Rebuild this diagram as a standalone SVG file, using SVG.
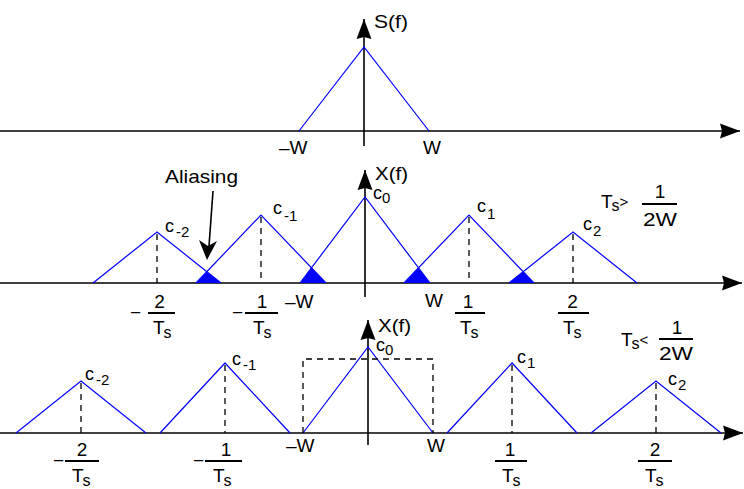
<svg xmlns="http://www.w3.org/2000/svg" width="744" height="489" viewBox="0 0 744 489">
<style>
.ax{stroke:#000;stroke-width:1.6;fill:none}
.sig{stroke:#0000ff;stroke-width:1.2;fill:none;stroke-linejoin:miter}
.ov{fill:#0000ff;stroke:none}
.dash{stroke:#000;stroke-width:1.3;stroke-dasharray:6,5;fill:none}
text{font-family:"Liberation Sans",Arial,Helvetica,sans-serif;fill:#000}
.t{font-size:19px}
.c{font-size:18px}
.sub{font-size:15px}
.s{font-size:16px}
.mid{text-anchor:middle}
</style>
<defs>
<marker id="ah" markerUnits="userSpaceOnUse" viewBox="0 0 20 16" markerWidth="20" markerHeight="16" refX="20" refY="8" orient="auto">
<path d="M0,0.5 L20,8 L0,15.5 L2,8 z" fill="#000"/>
</marker>
</defs>
<rect width="744" height="489" fill="#fff"/>

<g id="connectors">
<line class="ax" x1="0" y1="131" x2="740" y2="131" marker-end="url(#ah)"/>
<line class="ax" x1="364" y1="146" x2="364" y2="19" marker-end="url(#ah)"/>
<line class="ax" x1="0" y1="283" x2="742" y2="283" marker-end="url(#ah)"/>
<line class="ax" x1="365" y1="297" x2="365" y2="170" marker-end="url(#ah)"/>
<line class="ax" x1="0" y1="433" x2="743" y2="433" marker-end="url(#ah)"/>
<line class="ax" x1="368" y1="445" x2="368" y2="320" marker-end="url(#ah)"/>
<line class="ax" x1="213" y1="191" x2="209" y2="246"/>
<polygon points="207,260 199,240 208,246 217,241" fill="#000"/>
</g>

<g id="fraction-bars">
<path d="M148,313 H175 M245,313 H278 M455,313 H485 M558,313 H589 M642,204 H677 M65,461 H99 M205,461 H242 M495,461 H527 M638,461 H672 M659,339 H693" stroke="#000" stroke-width="2" fill="none"/>
</g>

<g id="panel-top">
<polyline class="sig" points="299,131 364,47 429,131"/>
<text class="t" x="374" y="28" textLength="34" lengthAdjust="spacingAndGlyphs">S(f)</text>
<text class="t" x="279" y="154">–W</text>
<text class="t" x="423" y="154">W</text>
</g>

<g id="panel-middle">
<polyline class="sig" points="93,283 157,232 221,283"/>
<polyline class="sig" points="196,283 261,215 326,283"/>
<polyline class="sig" points="300,283 365,197 430,283"/>
<polyline class="sig" points="404,283 469,215 534,283"/>
<polyline class="sig" points="509,283 573,232 637,283"/>
<polygon class="ov" points="196,283 206.8,271.7 221,283"/>
<polygon class="ov" points="300,283 311.5,267.8 326,283"/>
<polygon class="ov" points="404,283 418.5,267.8 430,283"/>
<polygon class="ov" points="509,283 523.2,271.7 534,283"/>
<line class="dash" x1="157" y1="234" x2="157" y2="283"/>
<line class="dash" x1="261" y1="217" x2="261" y2="283"/>
<line class="dash" x1="469" y1="217" x2="469" y2="283"/>
<line class="dash" x1="573" y1="234" x2="573" y2="283"/>
<text class="t" x="165" y="183" font-size="18" textLength="73" lengthAdjust="spacingAndGlyphs">Aliasing</text>
<text class="t" x="375" y="180" textLength="33" lengthAdjust="spacingAndGlyphs">X(f)</text>
<text class="c" x="373" y="199">c<tspan class="sub" dy="4">0</tspan></text>
<text class="c" x="165" y="232">c<tspan class="sub" dx="2" dy="5">-2</tspan></text>
<text class="c" x="273" y="214">c<tspan class="sub" dx="2" dy="7">-1</tspan></text>
<text class="c" x="477" y="212">c<tspan class="sub" dx="1" dy="7">1</tspan></text>
<text class="c" x="583" y="230">c<tspan class="sub" dx="1" dy="6">2</tspan></text>
<text class="t" x="285" y="308">–W</text>
<text class="t" x="425" y="307">W</text>

<text class="t" x="130" y="319">−</text>
<text class="t mid" x="159.5" y="308">2</text>
<text class="t" x="153" y="334">T<tspan class="s" dx="-1" dy="4">s</tspan></text>

<text class="t" x="232" y="319">−</text>
<text class="t mid" x="262" y="308">1</text>
<text class="t" x="253" y="334">T<tspan class="s" dx="-1" dy="4">s</tspan></text>

<text class="t mid" x="468" y="308">1</text>
<text class="t" x="460" y="334">T<tspan class="s" dx="-1" dy="4">s</tspan></text>

<text class="t mid" x="572.5" y="308">2</text>
<text class="t" x="563" y="334">T<tspan class="s" dx="-1" dy="4">s</tspan></text>

<text class="t" x="601" y="208">T<tspan class="s" dx="-1" dy="3">s</tspan><tspan font-size="15" dy="-4">&gt;</tspan></text>
<text class="t mid" x="660" y="198">1</text>
<text class="t" x="643" y="226" textLength="34" lengthAdjust="spacingAndGlyphs">2W</text>
</g>

<g id="panel-bottom">
<polyline class="sig" points="16,433 81,381 146,433"/>
<polyline class="sig" points="160,433 225,363 290,433"/>
<polyline class="sig" points="303,433 368,347 433,433"/>
<polyline class="sig" points="447,433 512,363 577,433"/>
<polyline class="sig" points="591,433 656,381 721,433"/>
<line class="dash" x1="81" y1="383" x2="81" y2="433"/>
<line class="dash" x1="225" y1="365" x2="225" y2="433"/>
<line class="dash" x1="512" y1="365" x2="512" y2="433"/>
<line class="dash" x1="656" y1="383" x2="656" y2="433"/>
<polyline class="dash" points="303,433 303,359 433,359 433,433"/>
<text class="t" x="378" y="332" textLength="33" lengthAdjust="spacingAndGlyphs">X(f)</text>
<text class="c" x="376" y="351">c<tspan class="sub" dy="4">0</tspan></text>
<text class="c" x="85" y="380">c<tspan class="sub" dx="2" dy="5">-2</tspan></text>
<text class="c" x="232" y="365">c<tspan class="sub" dx="2" dy="5">-1</tspan></text>
<text class="c" x="517" y="363">c<tspan class="sub" dx="1" dy="5">1</tspan></text>
<text class="c" x="668" y="385">c<tspan class="sub" dx="1" dy="5">2</tspan></text>
<text class="t" x="286" y="452">–W</text>
<text class="t" x="427" y="452">W</text>

<text class="t" x="53" y="467">−</text>
<text class="t mid" x="82" y="456">2</text>
<text class="t" x="72" y="482">T<tspan class="s" dx="-1" dy="4">s</tspan></text>

<text class="t" x="193" y="467">−</text>
<text class="t mid" x="226" y="456">1</text>
<text class="t" x="213" y="482">T<tspan class="s" dx="-1" dy="4">s</tspan></text>

<text class="t mid" x="510" y="456">1</text>
<text class="t" x="502" y="482">T<tspan class="s" dx="-1" dy="4">s</tspan></text>

<text class="t mid" x="655" y="456">2</text>
<text class="t" x="645" y="482">T<tspan class="s" dx="-1" dy="4">s</tspan></text>

<text class="t" x="621" y="346">T<tspan class="s" dx="-1" dy="3">s</tspan><tspan font-size="15" dy="-4">&lt;</tspan></text>
<text class="t mid" x="677" y="334">1</text>
<text class="t" x="659" y="360" textLength="34" lengthAdjust="spacingAndGlyphs">2W</text>
</g>
</svg>
